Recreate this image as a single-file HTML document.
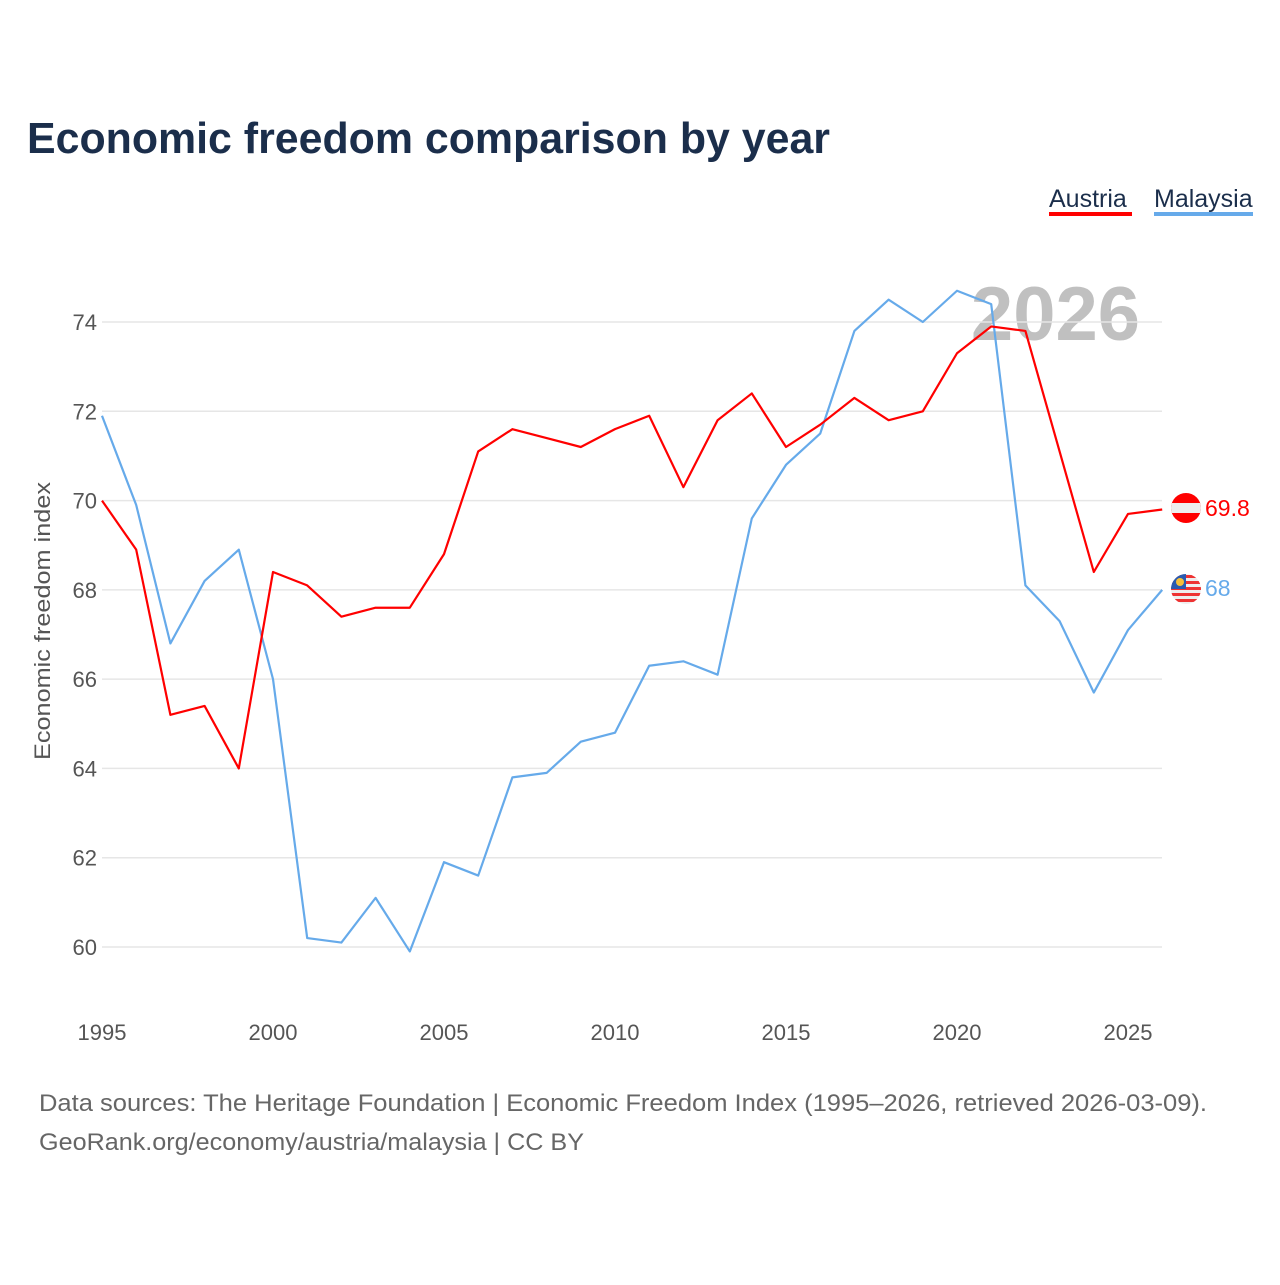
<!DOCTYPE html>
<html><head><meta charset="utf-8"><style>
body{margin:0;background:#fff;font-family:"Liberation Sans",sans-serif;}
</style></head><body>
<svg width="1280" height="1280" xmlns="http://www.w3.org/2000/svg" id="chart" style="font-family:'Liberation Sans',sans-serif">
<text x="27" y="153" font-size="44" font-weight="bold" fill="#1b2e4b" textLength="803" lengthAdjust="spacingAndGlyphs">Economic freedom comparison by year</text>
<g>
<text x="1049" y="207" font-size="25" fill="#1b2e4b">Austria</text>
<rect x="1049" y="212" width="83" height="4" fill="#ff0000"/>
<text x="1154" y="207" font-size="25" fill="#1b2e4b">Malaysia</text>
<rect x="1154" y="212" width="99" height="4" fill="#66aaea"/>
</g>
<text x="1140" y="340" font-size="76" font-weight="bold" fill="#c0c0c0" text-anchor="end">2026</text>
<g id="grid"></g><g id="lines"></g>
<text transform="translate(50,621) rotate(-90)" font-size="22" fill="#555" text-anchor="middle" textLength="278" lengthAdjust="spacingAndGlyphs">Economic freedom index</text>
<g>
<clipPath id="c1"><circle cx="1186" cy="508" r="15"/></clipPath>
<g clip-path="url(#c1)"><rect x="1170" y="492" width="32" height="32" fill="#ff0000"/><rect x="1170" y="503" width="32" height="10" fill="#eee"/></g>
<clipPath id="c2"><circle cx="1186" cy="589" r="15"/></clipPath>
<g clip-path="url(#c2)"><rect x="1170" y="573" width="32" height="32" fill="#eee"/>
<rect x="1170" y="575" width="32" height="3" fill="#e33"/><rect x="1170" y="581" width="32" height="3" fill="#e33"/><rect x="1170" y="587" width="32" height="3" fill="#e33"/><rect x="1170" y="593" width="32" height="3" fill="#e33"/><rect x="1170" y="599" width="32" height="3" fill="#e33"/>
<rect x="1170" y="573" width="16" height="16" fill="#2a5bb0"/><circle cx="1180" cy="582" r="4" fill="#f5c03a"/></g>
</g>
<text x="1205" y="516" font-size="23" fill="#ff0000">69.8</text>
<text x="1205" y="596" font-size="23" fill="#66aaea">68</text>
<text x="39" y="1111" font-size="24" fill="#666" textLength="1168" lengthAdjust="spacingAndGlyphs">Data sources: The Heritage Foundation | Economic Freedom Index (1995–2026, retrieved 2026-03-09).</text>
<text x="39" y="1150" font-size="24" fill="#666" textLength="545" lengthAdjust="spacingAndGlyphs">GeoRank.org/economy/austria/malaysia | CC BY</text>
</svg>
<script>
const years=[1995,1996,1997,1998,1999,2000,2001,2002,2003,2004,2005,2006,2007,2008,2009,2010,2011,2012,2013,2014,2015,2016,2017,2018,2019,2020,2021,2022,2023,2024,2025,2026];
const austria=[70.0,68.9,65.2,65.4,64.0,68.4,68.1,67.4,67.6,67.6,68.8,71.1,71.6,71.4,71.2,71.6,71.9,70.3,71.8,72.4,71.2,71.7,72.3,71.8,72.0,73.3,73.9,73.8,71.1,68.4,69.7,69.8];
const malaysia=[71.9,69.9,66.8,68.2,68.9,66.0,60.2,60.1,61.1,59.9,61.9,61.6,63.8,63.9,64.6,64.8,66.3,66.4,66.1,69.6,70.8,71.5,73.8,74.5,74.0,74.7,74.4,68.1,67.3,65.7,67.1,68.0];
const yTicks=[60,62,64,66,68,70,72,74];
const xTicks=[1995,2000,2005,2010,2015,2020,2025];
const NS="http://www.w3.org/2000/svg";
const xS=y=>102+(y-1995)*(1026/30);
const yS=v=>947-(v-60)*(625/14);
const grid=document.getElementById('grid'),lines=document.getElementById('lines');
function mk(t,a,p){const e=document.createElementNS(NS,t);for(const k in a)e.setAttribute(k,a[k]);p.appendChild(e);return e;}
yTicks.forEach(v=>{
 const l=mk('line',{x1:102,x2:1162,y1:yS(v),y2:yS(v),stroke:'#e6e6e6','stroke-width':1.5},grid);
 
 
 const t=mk('text',{x:97,y:yS(v)+8,'font-size':22,fill:'#555','text-anchor':'end'},grid);
 t.textContent=v;
 
 
});
xTicks.forEach(y=>{
 const t=mk('text',{x:xS(y),y:1040,'font-size':22,fill:'#555','text-anchor':'middle'},grid);
 t.textContent=y;
 
 
});
function line(d,c,n){
 const p=mk('polyline',{points:d.map((v,i)=>xS(years[i])+','+yS(v)).join(' '),fill:'none',stroke:c,'stroke-width':2.2,'stroke-linejoin':'round'},lines);
 
 
}
line(malaysia,'#66aaea','malaysia-line');
line(austria,'#ff0000','austria-line');
</script>
</body></html>
